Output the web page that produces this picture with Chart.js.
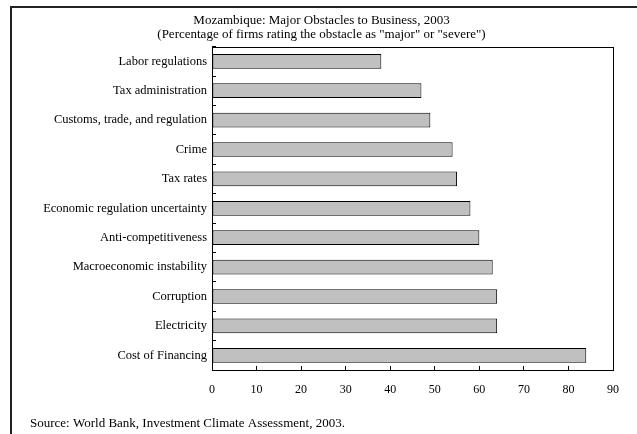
<!DOCTYPE html>
<html>
<head>
<meta charset="utf-8">
<script src="https://cdn.jsdelivr.net/npm/chart.js@4"></script>
<style>
  html, body { margin: 0; padding: 0; background: #fff; }
  #wrap { position: relative; width: 637px; height: 434px; overflow: hidden; }
  #frame { position: absolute; left: 10px; top: 6px; width: 700px; height: 500px; border-left: 2px solid #222; border-top: 2px solid #222; }
  canvas { position: absolute; left: 0; top: 0; }
</style>
</head>
<body>
<div id="wrap">
  <div id="frame"></div>
  <canvas id="chart" width="637" height="434"></canvas>
</div>
<script>
const categories = [
  'Labor regulations',
  'Tax administration',
  'Customs, trade, and regulation',
  'Crime',
  'Tax rates',
  'Economic regulation uncertainty',
  'Anti-competitiveness',
  'Macroeconomic instability',
  'Corruption',
  'Electricity',
  'Cost of Financing'
]
const shares = [38, 47, 49, 54, 55, 58, 60, 63, 64, 64, 84]
const xTicks = [0, 10, 20, 30, 40, 50, 60, 70, 80, 90]
const titleLines = [
  'Mozambique: Major Obstacles to Business, 2003',
  '(Percentage of firms rating the obstacle as "major" or "severe")'
]
const sourceNote = 'Source: World Bank, Investment Climate Assessment, 2003.'

const serif = "'Liberation Serif', 'Times New Roman', serif"

// box round the plot area (top and right sides are not axes)
const plotBox = {
  id: 'plotBox',
  afterDraw (chart) {
    const a = chart.chartArea
    const ctx = chart.ctx
    ctx.save()
    ctx.strokeStyle = '#000'
    ctx.lineWidth = 1
    ctx.strokeRect(Math.round(a.left) + 0.5, Math.round(a.top) + 0.5, Math.round(a.right - a.left), Math.round(a.bottom - a.top))
    ctx.restore()
  }
}

new Chart(document.getElementById('chart'), {
  type: 'bar',
  data: {
    labels: categories,
    datasets: [{
      data: shares,
      backgroundColor: '#c0c0c0',
      borderColor: '#000',
      borderWidth: 1,
      borderSkipped: false,
      barPercentage: 0.5,
      categoryPercentage: 1
    }]
  },
  options: {
    indexAxis: 'y',
    responsive: false,
    animation: false,
    layout: { padding: { left: 30, right: 24, top: 0, bottom: 0 } },
    scales: {
      x: {
        min: 0,
        max: 90,
        afterBuildTicks: s => { s.ticks = xTicks.map(v => ({ value: v })) },
        border: { display: true, color: '#000', width: 1 },
        grid: { drawOnChartArea: false, drawTicks: true, tickLength: -4, color: '#000' },
        ticks: { color: '#000', font: { family: serif, size: 12 }, padding: 17, maxRotation: 0 }
      },
      y: {
        afterFit: s => { s.width = 182 },
        border: { display: true, color: '#000', width: 1 },
        grid: { drawOnChartArea: false, drawTicks: true, tickLength: -4, color: '#000', offset: true },
        ticks: { color: '#000', font: { family: serif, size: 12.5 }, padding: 9, autoSkip: false }
      }
    },
    plugins: {
      legend: { display: false },
      tooltip: { enabled: false },
      title: {
        display: true,
        text: titleLines,
        color: '#000',
        font: { family: serif, size: 13, weight: 'normal', lineHeight: 1.1 },
        padding: { top: 13, bottom: 5 }
      },
      subtitle: {
        display: true,
        position: 'bottom',
        align: 'start',
        text: sourceNote,
        color: '#000',
        font: { family: serif, size: 13, weight: 'normal', lineHeight: 1.2 },
        padding: { top: 1, bottom: 3 }
      }
    }
  },
  plugins: [plotBox]
})
</script>
</body>
</html>
